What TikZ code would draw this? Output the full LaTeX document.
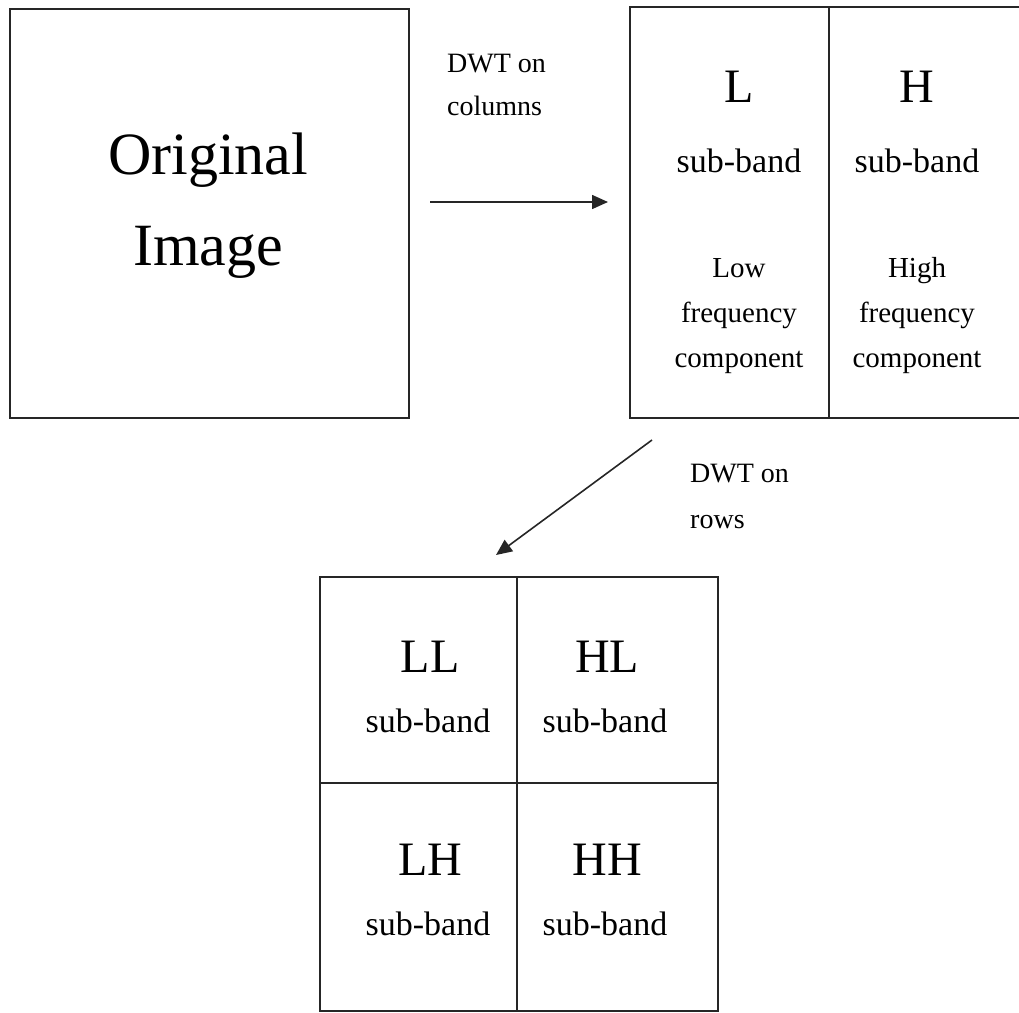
\documentclass[tikz,border=0pt]{standalone}
\usepackage{fontspec}
\setmainfont{Liberation Serif}
\usetikzlibrary{arrows.meta}
\begin{document}
\begin{tikzpicture}[x=1pt,y=-1pt,
  frame/.style={draw=black!85,line width=1.8pt},
  flow/.style={draw=black!85,line width=1.6pt,-{Triangle[length=16pt,width=14pt]}},
  big/.style={font=\fontsize{60}{90}\selectfont,anchor=base,inner sep=0pt,align=center},
  band/.style={font=\fontsize{48}{56}\selectfont,anchor=base,inner sep=0pt},
  sub/.style={font=\fontsize{34}{40}\selectfont,anchor=base,inner sep=0pt},
  small/.style={font=\fontsize{29}{44}\selectfont,anchor=base,inner sep=0pt},
  note/.style={font=\fontsize{28}{44}\selectfont,anchor=base west,inner sep=0pt,align=left}]
\useasboundingbox (0,0) rectangle (1019,1012);

% original image
\node[frame,minimum width=399pt,minimum height=409pt,anchor=north west,inner sep=0pt] (orig) at (9,8) {};
\node[big] (origA) at (208,174) {Original};
\node[big] (origB) at (208,265) {Image};

% column transform result (right edge runs off the page)
\draw[frame] (1025,7) -- (630,7) -- (630,418) -- (1025,418);
\draw[frame] (829,7) -- (829,418);
\node[band] (lbl) at (739,102) {L};
\node[band] (hbl) at (917,102) {H};
\node[sub] (lsb) at (739,172) {sub-band};
\node[sub] (hsb) at (917,172) {sub-band};
\node[small] (lo1) at (739,277) {Low};
\node[small] (lo2) at (739,322) {frequency};
\node[small] (lo3) at (739,367) {component};
\node[small] (hi1) at (917,277) {High};
\node[small] (hi2) at (917,322) {frequency};
\node[small] (hi3) at (917,367) {component};

% row transform result
\node[frame,minimum width=398pt,minimum height=434pt,anchor=north west,inner sep=0pt] (quad) at (319,576) {};
\draw[frame] (517,576) -- (517,1010);
\draw[frame] (319,783) -- (717,783);
\node[band] (ll) at (430,672) {LL};
\node[band] (hl) at (607,672) {HL};
\node[sub] (llsb) at (428,732) {sub-band};
\node[sub] (hlsb) at (605,732) {sub-band};
\node[band] (lh) at (430,875) {LH};
\node[band] (hh) at (607,875) {HH};
\node[sub] (lhsb) at (428,935) {sub-band};
\node[sub] (hhsb) at (605,935) {sub-band};

% transform arrows and their labels
\coordinate (a1s) at (430,202);
\coordinate (a1e) at (608,202);
\coordinate (a2s) at (652,440);
\coordinate (a2e) at (496,555);
\draw[flow] (a1s) -- (a1e);
\draw[flow] (a2s) -- (a2e);
\node[note] (cola) at (447,72) {DWT on};
\node[note] (colb) at (447,115) {columns};
\node[note] (rowa) at (690,482) {DWT on};
\node[note] (rowb) at (690,528) {rows};
\end{tikzpicture}
\end{document}
